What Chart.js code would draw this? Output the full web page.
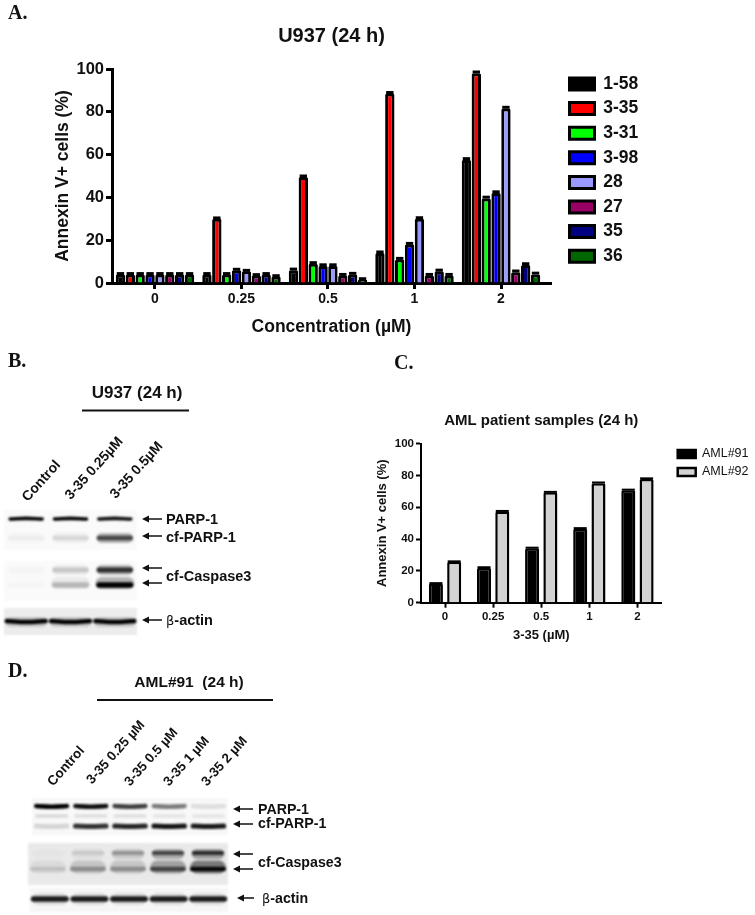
<!DOCTYPE html>
<html>
<head>
<meta charset="utf-8">
<script src="https://cdn.jsdelivr.net/npm/chart.js@4"></script>
<style>
    html, body { margin: 0; padding: 0; background: #fff; }
    #page { position: relative; width: 755px; height: 915px; overflow: hidden; font-family: "Liberation Sans", Arial, sans-serif; color: #111; filter: blur(0.35px); }
    canvas { position: absolute; }
    .blot { filter: blur(0.9px); }
    .t { position: absolute; font-weight: bold; font-size: 14.5px; line-height: 16px; white-space: nowrap; transform: translateY(-50%); }
    .letter { font-family: "Liberation Serif", serif; font-size: 20px; }
    .head { transform: translate(-50%, -50%); }
    .rot { font-size: 14px; transform-origin: 0 50%; transform: translateY(-50%) rotate(-48deg); }
    .rot.d { font-size: 13.5px; }
    .sym { font-family: "DejaVu Sans", sans-serif; font-weight: normal; font-size: 13px; }
    svg { position: absolute; left: 0; top: 0; }
</style>
</head>
<body>
<div id="page">
    <canvas id="chart-a" width="755" height="345" style="left:0;top:0"></canvas>
    <canvas id="chart-c" width="395" height="250" style="left:360px;top:400px"></canvas>

    <canvas id="blot-b1" class="blot" width="133" height="40" style="left:4px;top:510px;background:#fafafa"></canvas>
    <canvas id="blot-b2" class="blot" width="133" height="40" style="left:4px;top:561px;background:#fafafa"></canvas>
    <canvas id="blot-b3" class="blot" width="133" height="27" style="left:4px;top:608px;background:#ececec"></canvas>
    <canvas id="blot-d1" class="blot" width="196" height="37" style="left:32px;top:798px;background:#f8f8f8"></canvas>
    <canvas id="blot-d2" class="blot" width="200" height="42" style="left:28px;top:843px;background:#e9e9e9"></canvas>
    <canvas id="blot-d3" class="blot" width="198" height="24" style="left:30px;top:888px;background:#f6f6f6"></canvas>

    <div class="t letter" style="left:8px;top:12px">A.</div>
    <div class="t letter" style="left:8px;top:360px">B.</div>
    <div class="t letter" style="left:394px;top:362px">C.</div>
    <div class="t letter" style="left:8px;top:670px">D.</div>

    <div class="t head" style="left:137px;top:393px;font-size:17px">U937 (24 h)</div>
    <div class="t rot" style="left:24px;top:499px">Control</div>
    <div class="t rot" style="left:67px;top:497px">3-35 0.25µM</div>
    <div class="t rot" style="left:112px;top:496px">3-35 0.5µM</div>
    <div class="t" style="left:166px;top:519px">PARP-1</div>
    <div class="t" style="left:166px;top:537px">cf-PARP-1</div>
    <div class="t" style="left:166px;top:576px">cf-Caspase3</div>
    <div class="t" style="left:166px;top:620px"><span class="sym">β</span>-actin</div>

    <div class="t head" style="left:189px;top:682px;font-size:15.5px">AML#91&nbsp; (24 h)</div>
    <div class="t rot d" style="left:50px;top:784px">Control</div>
    <div class="t rot d" style="left:89px;top:782px">3-35 0.25 µM</div>
    <div class="t rot d" style="left:127px;top:784px">3-35 0.5 µM</div>
    <div class="t rot d" style="left:166px;top:784px">3-35 1 µM</div>
    <div class="t rot d" style="left:204px;top:784px">3-35 2 µM</div>
    <div class="t" style="left:258px;top:809px;font-size:14.2px">PARP-1</div>
    <div class="t" style="left:258px;top:823px;font-size:14.2px">cf-PARP-1</div>
    <div class="t" style="left:258px;top:862px;font-size:14.2px">cf-Caspase3</div>
    <div class="t" style="left:262px;top:898px;font-size:14.2px"><span class="sym">β</span>-actin</div>

    <svg width="755" height="915" id="marks"></svg>
</div>

<script>
// ── Panel A data ─────────────────────────────────────────────────
const concLabels = ['0', '0.25', '0.5', '1', '2'];
const aSeriesNames = ['1-58', '3-35', '3-31', '3-98', '28', '27', '35', '36'];
const aColors = ['#000000', '#ff0000', '#00ff00', '#0000ff', '#9999ff', '#990066', '#000080', '#006600'];
const a158 = [4, 4, 6, 14, 57.5];
const a335 = [4, 30, 49.5, 88.5, 98];
const a331 = [4, 4, 9, 11, 39.5];
const a398 = [4, 6, 8, 18, 42];
const a28  = [4, 5.5, 8, 30, 81.5];
const a27  = [4, 3.5, 3.5, 3.5, 5];
const a35  = [4, 4, 4, 5.5, 8.4];
const a36  = [4, 3, 1.5, 3.5, 4];
const aSeries = [a158, a335, a331, a398, a28, a27, a35, a36];
const aErr = [0.4, 0.4, 0.5, 0.5, 0.6];

// ── Panel C data ─────────────────────────────────────────────────
const cSeriesNames = ['AML#91', 'AML#92'];
const cColors = ['#000000', '#d3d3d3'];
const aml91 = [12, 22, 34.3, 46.5, 70.7];
const aml92 = [25.7, 57.4, 69.4, 75.2, 77.8];
const cErr = [0.3, 0.3, 0.3, 0.4, 0.4];

// ── Blot band densities per lane (0 = nothing, 1 = black) ────────
const bParp     = [1, 1, 0.95];
const bCfParp   = [0.04, 0.1, 0.62];
const bCasUpper = [0.02, 0.16, 0.75];
const bCasLower = [0.02, 0.22, 1];
const bActin    = [1, 1, 1];
const dParp     = [1, 0.95, 0.75, 0.5, 0.1];
const dFaint    = [0.12, 0.1, 0.1, 0.08, 0.08];
const dCfParp   = [0.14, 0.8, 0.85, 0.92, 0.9];
const dCasUpper = [0.02, 0.1, 0.28, 0.6, 0.72];
const dCasLower = [0.12, 0.3, 0.3, 0.6, 0.95];
const dActin    = [0.88, 0.88, 0.88, 0.88, 0.88];

// ── Shared helpers ───────────────────────────────────────────────
const FONT = '"Liberation Sans", Arial, sans-serif';
Chart.defaults.font.family = FONT;
Chart.defaults.color = '#111';
Chart.defaults.animation = false;

// small error caps on top of each bar
const errorCaps = {
    id: 'errorCaps',
    afterDatasetsDraw(chart, _, opts) {
        const { ctx, scales: { y } } = chart;
        chart.data.datasets.forEach((ds, i) => {
            chart.getDatasetMeta(i).data.forEach((bar, k) => {
                const top = y.getPixelForValue(ds.data[k].y + opts.errors[k]);
                const half = bar.width / 2 - opts.inset;
                ctx.save();
                ctx.strokeStyle = '#000';
                ctx.lineWidth = opts.width;
                ctx.beginPath();
                ctx.moveTo(bar.x - half, top);
                ctx.lineTo(bar.x + half, top);
                ctx.stroke();
                ctx.restore();
            });
        });
    }
};

// moves the overlaid legend to where it sits beside the plot
const legendSpot = {
    id: 'legendSpot',
    afterLayout(chart, _, opts) {
        const lg = chart.legend;
        lg.left = opts.left;
        lg.top = opts.top;
        lg.right = chart.width;
        lg.bottom = chart.height;
    }
};

function barChart(id, names, colors, values, cfg) {
    return new Chart(document.getElementById(id), {
        type: 'bar',
        data: {
            datasets: names.map((name, i) => ({
                label: name,
                data: values[i].map((v, k) => ({ x: k, y: v })),
                backgroundColor: colors[i],
                borderColor: '#000',
                borderWidth: cfg.border,
                borderRadius: { topLeft: 1.5, topRight: 1.5, bottomLeft: 0, bottomRight: 0 },
                borderSkipped: 'bottom',
                categoryPercentage: cfg.catPct,
                barPercentage: cfg.barPct,
            }))
        },
        plugins: [errorCaps, legendSpot],
        options: {
            responsive: false,
            layout: { autoPadding: false, padding: { right: cfg.padRight } },
            plugins: {
                title: {
                    display: true,
                    text: cfg.title,
                    fullSize: false,
                    color: '#111',
                    font: { size: cfg.titleSize, weight: 'bold' },
                    padding: cfg.titlePad,
                },
                legend: {
                    position: 'chartArea',
                    align: 'start',
                    labels: {
                        boxWidth: cfg.boxW,
                        boxHeight: cfg.boxH,
                        padding: cfg.legendPad,
                        color: '#111',
                        font: { size: cfg.legendSize, weight: cfg.legendWeight },
                    }
                },
                tooltip: { enabled: false },
                errorCaps: { errors: cfg.errors, width: cfg.capWidth, inset: cfg.capInset },
                legendSpot: cfg.legendAt,
            },
            scales: {
                x: {
                    type: 'linear',
                    offset: false,
                    min: cfg.xMin,
                    max: cfg.xMax,
                    afterBuildTicks: (s) => { s.ticks = concLabels.map((_, i) => ({ value: i })); },
                    afterFit: (s) => { s.height = cfg.xHeight; },
                    ticks: {
                        autoSkip: false,
                        maxRotation: 0,
                        padding: cfg.xTickPad,
                        font: { size: cfg.xTickSize, weight: 'bold' },
                        callback: (v) => concLabels[v],
                    },
                    grid: { offset: false, drawOnChartArea: false, tickColor: '#000', tickWidth: cfg.axis, tickLength: cfg.tick },
                    border: { color: '#000', width: cfg.axis },
                    title: {
                        display: true,
                        text: cfg.xTitle,
                        font: { size: cfg.axisTitleSize, weight: 'bold' },
                        padding: { bottom: cfg.xTitlePad },
                    },
                },
                y: {
                    min: 0,
                    max: 100,
                    afterFit: (s) => { s.width = cfg.yWidth; },
                    ticks: { stepSize: 20, padding: cfg.yTickPad, font: { size: cfg.yTickSize, weight: 'bold' } },
                    grid: { drawOnChartArea: false, tickColor: '#000', tickWidth: cfg.axis, tickLength: cfg.tick },
                    border: { color: '#000', width: cfg.axis },
                    title: {
                        display: true,
                        text: 'Annexin V+ cells (%)',
                        font: { size: cfg.axisTitleSize, weight: 'bold' },
                        padding: { top: cfg.yTitlePad },
                    },
                },
            },
        },
    });
}

// ════════════════════════════════════════════════════════════════
// BAR CHARTS
// ════════════════════════════════════════════════════════════════
barChart('chart-a', aSeriesNames, aColors, aSeries, {
    title: 'U937 (24 h)', titleSize: 20, titlePad: { top: 24, bottom: 21 },
    xTitle: 'Concentration (µM)', axisTitleSize: 17.5,
    xMin: -0.497, xMax: 4.578, xHeight: 62, yWidth: 112, padRight: 204,
    catPct: 0.913, barPct: 0.95, border: 3, axis: 3, tick: 6,
    xTickSize: 14, yTickSize: 16.5, xTickPad: 2, yTickPad: 2,
    xTitlePad: 7, yTitlePad: 53,
    boxW: 25, boxH: 12, legendSize: 17.5, legendWeight: 'bold', legendPad: 7.1,
    errors: aErr, capWidth: 3, capInset: 1,
    legendAt: { left: 562.4, top: 68.15 },
});

barChart('chart-c', cSeriesNames, cColors, [aml91, aml92], {
    title: 'AML patient samples (24 h)', titleSize: 15, titlePad: { top: 11.7, bottom: 14 },
    xTitle: '3-35 (µM)', axisTitleSize: 13,
    xMin: -0.5, xMax: 4.5, xHeight: 47.3, yWidth: 61, padRight: 93.5,
    catPct: 0.76, barPct: 0.77, border: 2.5, axis: 2, tick: 5,
    xTickSize: 11.5, yTickSize: 11.5, xTickPad: 2, yTickPad: 2,
    xTitlePad: 6.8, yTitlePad: 15,
    boxW: 18, boxH: 8, legendSize: 12.5, legendWeight: 'normal', legendPad: 5.5,
    errors: cErr, capWidth: 2, capInset: 0.5,
    legendAt: { left: 312.2, top: 42.25 },
});

// ════════════════════════════════════════════════════════════════
// WESTERN BLOTS (bands are short thick lines on a lane / depth scale)
// ════════════════════════════════════════════════════════════════
function blot(id, rows, laneSpan) {
    const canvas = document.getElementById(id);
    const datasets = [];
    rows.forEach(row => {
        const span = row.span ?? laneSpan;
        row.values.forEach((v, lane) => {
            datasets.push({
                data: [
                    { x: lane - span, y: row.y },
                    { x: lane, y: row.y + (row.bow ?? 0) },
                    { x: lane + span, y: row.y },
                ],
                borderColor: `rgba(0,0,0,${v})`,
                borderWidth: row.thick,
                borderCapStyle: 'round',
                pointRadius: 0,
                tension: 0.4,
            });
        });
    });
    const laneCount = rows[0].values.length;
    return new Chart(canvas, {
        type: 'line',
        data: { datasets },
        options: {
            responsive: false,
            layout: { autoPadding: false },
            plugins: { legend: { display: false }, tooltip: { enabled: false } },
            scales: {
                x: { type: 'linear', display: false, min: -0.5, max: laneCount - 0.5 },
                y: { type: 'linear', display: false, min: 0, max: canvas.height, reverse: true },
            },
        },
    });
}

const haze = (vals, k) => vals.map(v => v * k);

blot('blot-b1', [
    { values: haze(bCfParp, 0.45), y: 28, thick: 10, span: 0.3 },
    { values: bCfParp, y: 28, thick: 4.5 },
    { values: bParp, y: 9, thick: 3.6, bow: -0.6 },
], 0.36);
blot('blot-b2', [
    { values: haze(bCasUpper, 0.35), y: 9, thick: 10, span: 0.3 },
    { values: haze(bCasLower, 0.28), y: 22, thick: 12, span: 0.3 },
    { values: bCasUpper, y: 9, thick: 4.8 },
    { values: bCasLower, y: 24, thick: 5.5 },
], 0.36);
blot('blot-b3', [
    { values: haze(bActin, 0.15), y: 14, thick: 10, span: 0.36 },
    { values: bActin, y: 13, thick: 4.4, bow: 1 },
], 0.44);
blot('blot-d1', [
    { values: dFaint, y: 18, thick: 3.5, span: 0.38 },
    { values: dParp, y: 8, thick: 4.6, bow: 0.8 },
    { values: dCfParp, y: 28, thick: 5, bow: 0.5 },
], 0.39);
blot('blot-d2', [
    { values: haze(dCasLower, 0.5), y: 24, thick: 13, span: 0.28 },
    { values: haze(dCasUpper, 0.45), y: 11, thick: 10, span: 0.28 },
    { values: dCasUpper, y: 10, thick: 3.8, span: 0.36 },
    { values: dCasLower, y: 26, thick: 4.4, span: 0.4 },
], 0.4);
blot('blot-d3', [
    { values: haze(dActin, 0.12), y: 11, thick: 12, span: 0.3 },
    { values: dActin, y: 11, thick: 5.6 },
], 0.41);

// ── Header rules and arrows ──────────────────────────────────────
const rules = [[82, 410.5, 189], [97, 700, 273]];
const arrows = [
    [142, 162, 519], [142, 162, 536], [142, 162, 568], [142, 162, 583], [142, 162, 620],
    [233, 253, 809], [233, 253, 824], [233, 253, 854], [233, 253, 869], [237, 254, 898],
];
const marks = document.getElementById('marks');
let svg = '';
rules.forEach(([x1, y, x2]) => {
    svg += `<line x1="${x1}" y1="${y}" x2="${x2}" y2="${y}" stroke="#111" stroke-width="1.8"/>`;
});
arrows.forEach(([x1, x2, y]) => {
    svg += `<line x1="${x1 + 3}" y1="${y}" x2="${x2}" y2="${y}" stroke="#111" stroke-width="1.5"/>`;
    svg += `<path d="M${x1} ${y} l7 -3.4 v6.8 z" fill="#111"/>`;
});
marks.innerHTML = svg;
</script>
</body>
</html>
